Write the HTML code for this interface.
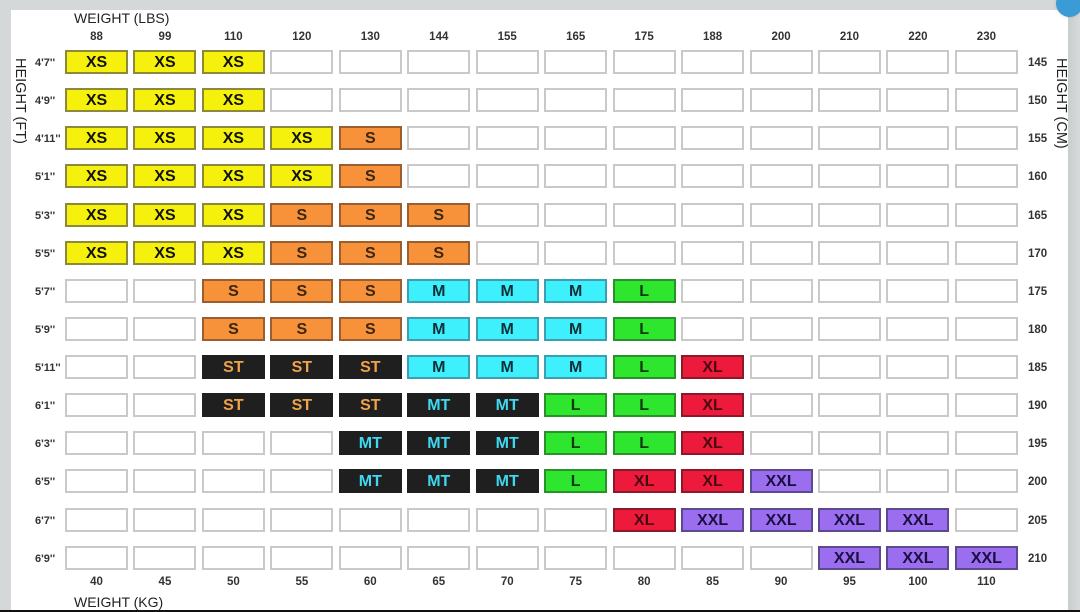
<!DOCTYPE html>
<html><head><meta charset="utf-8">
<style>
*{margin:0;padding:0;box-sizing:border-box}
html,body{width:1080px;height:612px;overflow:hidden;background:#d4d8d9;font-family:"Liberation Sans",Arial,sans-serif}
.panel{position:absolute;left:11px;top:10px;width:1057px;height:600px;background:#fff}
.rstrip{position:absolute;left:1068px;top:0;width:12px;height:612px;background:linear-gradient(90deg,#c9cdce,#d6dadb)}
.botline{position:absolute;left:0;top:610px;width:1080px;height:2px;background:#111}
.dot{position:absolute;left:1056px;top:-10px;width:27px;height:27px;border-radius:50%;background:#3b9bd5;box-shadow:0 0 3px rgba(0,0,0,.15)}
.grid{position:absolute;left:65px;top:50px;display:grid;grid-template-columns:repeat(14,63px);grid-auto-rows:24px;column-gap:5.46px;row-gap:14.13px}
.grid div{border:2px solid #c9c9c9;background:#fff;font-weight:bold;font-size:16px;line-height:22px;text-align:center}
.grid .xs{background:#f5f10c;border-color:#8c8a3a;color:#111}
.grid .s{background:#f7923a;border-color:#9a5e30;color:#3a2614}
.grid .st{background:#1f1f1f;border-color:#1f1f1f;color:#f2a34a}
.grid .m{background:#3ef0fb;border-color:#3a9fb0;color:#0f3038}
.grid .mt{background:#1f1f1f;border-color:#1f1f1f;color:#3fd8f0}
.grid .l{background:#2ee62e;border-color:#2a922a;color:#0e3a0e}
.grid .xl{background:#ee1a3c;border-color:#8a1a2a;color:#4a0a12}
.grid .xxl{background:#9b6ef0;border-color:#5c4a8c;color:#1a1040}
.top,.bot{position:absolute;display:grid;grid-template-columns:repeat(14,63px);column-gap:5.46px;left:65px;font-size:11.5px;font-weight:bold;color:#333;text-align:center}
.top{top:31px}
.bot{top:576px}
.ft{position:absolute;left:35px;top:51px;display:grid;grid-auto-rows:24px;row-gap:14.13px;font-size:11px;font-weight:bold;color:#333;line-height:24px}
.cm{position:absolute;left:1028px;top:51px;display:grid;grid-auto-rows:24px;row-gap:14.13px;font-size:11.5px;font-weight:bold;color:#333;line-height:24px}
.t{position:absolute;font-size:14px;color:#222;white-space:nowrap}
.v{position:absolute;writing-mode:vertical-rl;font-size:14.5px;color:#222;white-space:nowrap}
</style></head><body>
<div class="panel"></div>
<div class="rstrip"></div>
<div class="dot"></div>
<div class="t" style="left:74px;top:10px">WEIGHT (LBS)</div>
<div class="t" style="left:74px;top:594px">WEIGHT (KG)</div>
<div class="v" style="left:12px;top:58px">HEIGHT (FT)</div>
<div class="v" style="left:1053px;top:58px">HEIGHT (CM)</div>

<div class="top"><span>88</span><span>99</span><span>110</span><span>120</span><span>130</span><span>144</span><span>155</span><span>165</span><span>175</span><span>188</span><span>200</span><span>210</span><span>220</span><span>230</span></div>
<div class="bot"><span>40</span><span>45</span><span>50</span><span>55</span><span>60</span><span>65</span><span>70</span><span>75</span><span>80</span><span>85</span><span>90</span><span>95</span><span>100</span><span>110</span></div>

<div class="ft"><span>4'7''</span><span>4'9''</span><span>4'11''</span><span>5'1''</span><span>5'3''</span><span>5'5''</span><span>5'7''</span><span>5'9''</span><span>5'11''</span><span>6'1''</span><span>6'3''</span><span>6'5''</span><span>6'7''</span><span>6'9''</span></div>
<div class="cm"><span>145</span><span>150</span><span>155</span><span>160</span><span>165</span><span>170</span><span>175</span><span>180</span><span>185</span><span>190</span><span>195</span><span>200</span><span>205</span><span>210</span></div>

<div class="grid">
<div class="xs">XS</div><div class="xs">XS</div><div class="xs">XS</div><div></div><div></div><div></div><div></div><div></div><div></div><div></div><div></div><div></div><div></div><div></div>
<div class="xs">XS</div><div class="xs">XS</div><div class="xs">XS</div><div></div><div></div><div></div><div></div><div></div><div></div><div></div><div></div><div></div><div></div><div></div>
<div class="xs">XS</div><div class="xs">XS</div><div class="xs">XS</div><div class="xs">XS</div><div class="s">S</div><div></div><div></div><div></div><div></div><div></div><div></div><div></div><div></div><div></div>
<div class="xs">XS</div><div class="xs">XS</div><div class="xs">XS</div><div class="xs">XS</div><div class="s">S</div><div></div><div></div><div></div><div></div><div></div><div></div><div></div><div></div><div></div>
<div class="xs">XS</div><div class="xs">XS</div><div class="xs">XS</div><div class="s">S</div><div class="s">S</div><div class="s">S</div><div></div><div></div><div></div><div></div><div></div><div></div><div></div><div></div>
<div class="xs">XS</div><div class="xs">XS</div><div class="xs">XS</div><div class="s">S</div><div class="s">S</div><div class="s">S</div><div></div><div></div><div></div><div></div><div></div><div></div><div></div><div></div>
<div></div><div></div><div class="s">S</div><div class="s">S</div><div class="s">S</div><div class="m">M</div><div class="m">M</div><div class="m">M</div><div class="l">L</div><div></div><div></div><div></div><div></div><div></div>
<div></div><div></div><div class="s">S</div><div class="s">S</div><div class="s">S</div><div class="m">M</div><div class="m">M</div><div class="m">M</div><div class="l">L</div><div></div><div></div><div></div><div></div><div></div>
<div></div><div></div><div class="st">ST</div><div class="st">ST</div><div class="st">ST</div><div class="m">M</div><div class="m">M</div><div class="m">M</div><div class="l">L</div><div class="xl">XL</div><div></div><div></div><div></div><div></div>
<div></div><div></div><div class="st">ST</div><div class="st">ST</div><div class="st">ST</div><div class="mt">MT</div><div class="mt">MT</div><div class="l">L</div><div class="l">L</div><div class="xl">XL</div><div></div><div></div><div></div><div></div>
<div></div><div></div><div></div><div></div><div class="mt">MT</div><div class="mt">MT</div><div class="mt">MT</div><div class="l">L</div><div class="l">L</div><div class="xl">XL</div><div></div><div></div><div></div><div></div>
<div></div><div></div><div></div><div></div><div class="mt">MT</div><div class="mt">MT</div><div class="mt">MT</div><div class="l">L</div><div class="xl">XL</div><div class="xl">XL</div><div class="xxl">XXL</div><div></div><div></div><div></div>
<div></div><div></div><div></div><div></div><div></div><div></div><div></div><div></div><div class="xl">XL</div><div class="xxl">XXL</div><div class="xxl">XXL</div><div class="xxl">XXL</div><div class="xxl">XXL</div><div></div>
<div></div><div></div><div></div><div></div><div></div><div></div><div></div><div></div><div></div><div></div><div></div><div class="xxl">XXL</div><div class="xxl">XXL</div><div class="xxl">XXL</div>
</div>
<div class="botline"></div>
</body></html>
